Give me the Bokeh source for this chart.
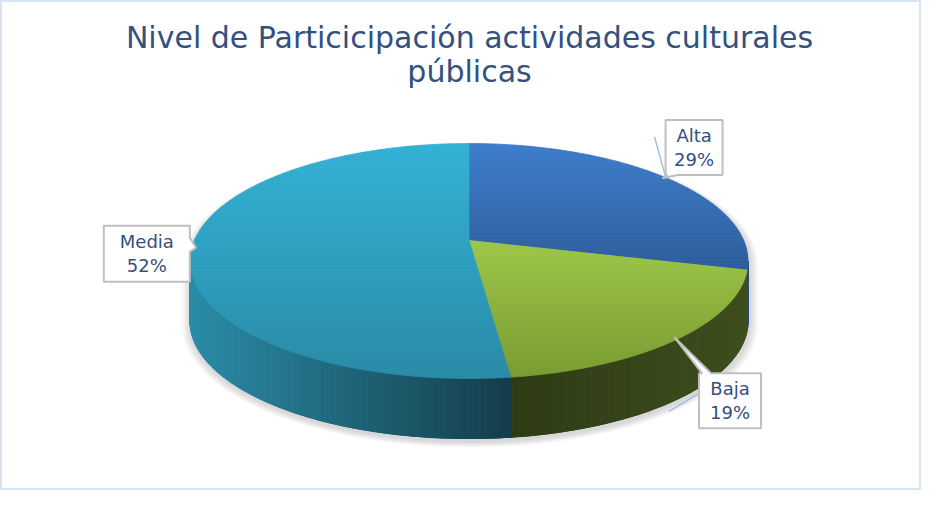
import numpy as np
from bokeh.plotting import figure
from bokeh.models import Range1d
from bokeh.core.properties import value
from bokeh.embed import file_html
from bokeh.resources import INLINE

# ---------------- data ----------------
categories = ["Alta", "Baja", "Media"]
percentages = [29, 19, 52]
title_lines = ["Nivel de Particicipación actividades culturales", "públicas"]

# ---------------- styles / layout ----------------
top_colors = {"Alta": ("#3E7ECC", "#2E5D9B"),
              "Baja": ("#9DC748", "#7A9B32"),
              "Media": ("#33B2D5", "#2A8BA7")}
side_colors = {"Alta": ("#23477A", "#23477A"),
               "Baja": ("#2E3B15", "#3E4F1E"),
               "Media": ("#2B8DA7", "#143D4B")}
label_layout = {
    "Alta": dict(dx=29, dy=-30, w=57, h=55, edge="bottom", base=(2, 12),
                 lead=((-11, 17), (0, 57))),
    "Baja": dict(dx=52, dy=62, w=62, h=55, edge="top", base=(3, 12),
                 lead=((0, 20), (-30, 38))),
    "Media": dict(dx=-45, dy=6, w=86, h=56, edge="right", base=(12, 26), lead=None),
}
TEXT_COLOR = "#34507F"
FONT = "DejaVu Sans"

W, H = 921, 490
CX, CY = 468.5, 240.0          # centre of the top face (pixels)
A, B, K = 274.7, 113.9, 0.1745  # projection parameters (perspective)
DEPTH = 60


def proj(t_deg, r=1.0):
    t = np.radians(np.asarray(t_deg, dtype=float))
    u = r * np.sin(t)
    v = -r * np.cos(t)
    d = 1 - K * v
    return CX + A * u / d, CY + B * v / d


def hex2rgb(h):
    h = h.lstrip("#")
    return np.array([int(h[i:i + 2], 16) for i in (0, 2, 4)], dtype=float)


def lerp_color(c0, c1, f):
    f = min(max(f, 0.0), 1.0)
    c = hex2rgb(c0) * (1 - f) + hex2rgb(c1) * f
    return "#%02x%02x%02x" % tuple(int(round(x)) for x in c)


def clip_poly(pts, y, keep_greater):
    out = []
    n = len(pts)
    for i in range(n):
        p0 = pts[i]
        p1 = pts[(i + 1) % n]
        in0 = p0[1] >= y if keep_greater else p0[1] <= y
        in1 = p1[1] >= y if keep_greater else p1[1] <= y
        if in0:
            out.append(p0)
        if in0 != in1:
            f = (y - p0[1]) / (p1[1] - p0[1])
            out.append((p0[0] + f * (p1[0] - p0[0]), y))
    return out


p = figure(width=W, height=H, x_range=Range1d(0, W), y_range=Range1d(H, 0),
           output_backend="svg", toolbar_location=None, min_border=0,
           x_axis_location=None, y_axis_location=None)
p.grid.visible = False
p.outline_line_color = "#D6E4F4"
p.outline_line_width = 3
p.background_fill_color = "white"
p.border_fill_color = "white"

# slice angles (clockwise from 12 o'clock)
total = float(sum(percentages))
starts, ends = [], []
acc = 0.0
for v in percentages:
    starts.append(acc / total * 360.0)
    acc += v
    ends.append(acc / total * 360.0)

t_vis0 = np.degrees(np.arccos(-K))
t_vis1 = 360.0 - t_vis0

# ---- soft shadow ----
arc_back = np.linspace(t_vis1 - 360.0, t_vis0, 120)
arc_front = np.linspace(t_vis0, t_vis1, 120)
bx, by = proj(arc_back)
fx, fy = proj(arc_front)
sil_x = np.concatenate([bx, fx])
sil_y = np.concatenate([by, fy + DEPTH])
sxs, sys_ = [], []
for i in range(7, 0, -1):
    s = 1 + i * 0.0045
    sxs.append(list(CX + (sil_x - CX) * s + 1))
    sys_.append(list(CY + 10 + (sil_y - CY - 10) * s + 3))
p.patches(sxs, sys_, fill_color="#808080", fill_alpha=0.05, line_color=None)

# ---- side: base shapes then gradient strips ----
strips = []
base_xs, base_ys, base_cols = [], [], []
for cat, t0, t1 in zip(categories, starts, ends):
    a0, a1 = max(t0, t_vis0), min(t1, t_vis1)
    if a1 <= a0:
        continue
    n = max(2, int((a1 - a0) / 1.0) + 1)
    ts = np.linspace(a0, a1, n)
    xs_all, ys_all = proj(ts)
    base_xs.append(list(xs_all) + list(xs_all[::-1]))
    base_ys.append(list(ys_all) + list(ys_all[::-1] + DEPTH))
    base_cols.append(lerp_color(side_colors[cat][0], side_colors[cat][1], 0.5))
    xmin, xmax = xs_all.min(), xs_all.max()
    for i in range(n - 1):
        xa, ya = proj(ts[i])
        xb, yb = proj(ts[i + 1])
        xm = 0.5 * (xa + xb)
        f = (xm - xmin) / (xmax - xmin) if xmax > xmin else 0.5
        col = lerp_color(side_colors[cat][0], side_colors[cat][1], f)
        vmid = -np.cos(np.radians(0.5 * (ts[i] + ts[i + 1])))
        strips.append((vmid, [xa, xb, xb, xa], [ya, yb, yb + DEPTH, ya + DEPTH], col))
strips.sort(key=lambda s: s[0])
p.patches(base_xs, base_ys, fill_color=base_cols, line_color=base_cols, line_width=1)
p.patches([s[1] for s in strips], [s[2] for s in strips],
          fill_color=[s[3] for s in strips], line_color=[s[3] for s in strips], line_width=1.2)

# ---- top faces with vertical gradient ----
band_xs, band_ys, band_cols = [], [], []
for cat, t0, t1 in zip(categories, starts, ends):
    n = max(3, int((t1 - t0) / 0.8) + 1)
    ts = np.linspace(t0, t1, n)
    ax, ay = proj(ts)
    poly = [(CX, CY)] + list(zip(ax, ay))
    ymin = min(q[1] for q in poly)
    ymax = max(q[1] for q in poly)
    step = 3.0
    yb = ymin
    while yb < ymax:
        ye = min(yb + step, ymax)
        part = clip_poly(poly, yb, True)
        if len(part) >= 3:
            part = clip_poly(part, ye, False)
        if len(part) >= 3:
            f = ((yb + ye) / 2 - ymin) / (ymax - ymin)
            band_cols.append(lerp_color(top_colors[cat][0], top_colors[cat][1], f))
            band_xs.append([q[0] for q in part])
            band_ys.append([q[1] for q in part])
        yb = ye
p.patches(band_xs, band_ys, fill_color=band_cols, line_color=band_cols, line_width=0.8)

# ---- data labels (callouts) ----
for cat, val, t0, t1 in zip(categories, percentages, starts, ends):
    lay = label_layout[cat]
    tm = 0.5 * (t0 + t1)
    axp, ayp = proj(tm, 1.0)
    tipx, tipy = proj(tm, 0.985)
    bxc, byc = axp + lay["dx"], ayp + lay["dy"]
    x0, x1 = bxc - lay["w"] / 2, bxc + lay["w"] / 2
    y0, y1 = byc - lay["h"] / 2, byc + lay["h"] / 2
    b0, b1 = lay["base"]
    TL, TR, BR, BL = (x0, y0), (x1, y0), (x1, y1), (x0, y1)
    tip = (float(tipx), float(tipy))
    if lay["edge"] == "top":
        pts = [TL, (x0 + b0, y0), tip, (x0 + b1, y0), TR, BR, BL]
    elif lay["edge"] == "right":
        pts = [TL, TR, (x1, y0 + b0), tip, (x1, y0 + b1), BR, BL]
    else:
        pts = [TL, TR, BR, (x0 + b1, y1), tip, (x0 + b0, y1), BL]
    if lay["lead"] is not None:
        (s0x, s0y), (e0x, e0y) = lay["lead"]
        p.line([x0 + s0x, x0 + e0x], [y0 + s0y, y0 + e0y],
               line_color="#9DC3E6", line_width=1.5)
    p.patch([q[0] for q in pts], [q[1] for q in pts], fill_color="white",
            line_color="#BFBFBF", line_width=2)
    p.text(x=[bxc, bxc], y=[byc - 12, byc + 12], text=[cat, "%d%%" % val],
           text_align="center", text_baseline="middle", text_color=TEXT_COLOR,
           text_font=value(FONT), text_font_size="18px")

# ---- title ----
p.text(x=[469, 469], y=[37, 71], text=title_lines, text_align="center",
       text_baseline="middle", text_color=TEXT_COLOR, text_font=value(FONT),
       text_font_size="30px")

open("out.html", "w").write(file_html(p, INLINE))
